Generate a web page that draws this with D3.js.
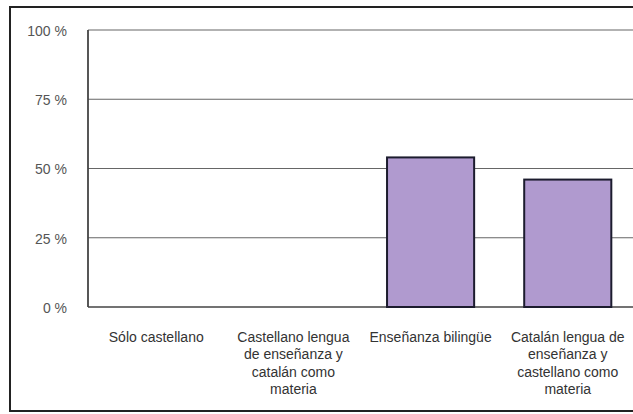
<!DOCTYPE html>
<html><head><meta charset="utf-8">
<script src="https://cdn.jsdelivr.net/npm/d3@7"></script>
<style>body{margin:0;background:#fff;}svg{display:block;}</style>
</head><body>
<script>
const categories = [
  ["Sólo castellano"],
  ["Castellano lengua", "de enseñanza y", "catalán como", "materia"],
  ["Enseñanza bilingüe"],
  ["Catalán lengua de", "enseñanza y", "castellano como", "materia"]
];
const values = [0, 0, 54, 46];
const tickValues = [0, 25, 50, 75, 100];
const tickLabels = ["0 %", "25 %", "50 %", "75 %", "100 %"];

(function () {
const W = 633, H = 414;
const svg = d3.select("body").append("svg").attr("width", W).attr("height", H);

// outer frame
svg.append("rect").attr("x", 10).attr("y", 7).attr("width", 640).attr("height", 404)
  .attr("fill", "none").attr("stroke", "#222").attr("stroke-width", 2);

const pLeft = 88, pTop = 30, pBottom = 307, pRight = 636;
const x = d3.scaleBand().domain(d3.range(categories.length)).range([pLeft, pRight]).paddingInner(0.365).paddingOuter(0.18);
const y = d3.scaleLinear().domain([0, 100]).range([pBottom, pTop]);

// gridlines
svg.append("g").selectAll("line").data(tickValues).join("line")
  .attr("x1", pLeft).attr("x2", W + 5)
  .attr("y1", d => y(d)).attr("y2", d => y(d))
  .attr("stroke", d => d === 0 ? "#444" : "#666")
  .attr("stroke-width", d => d === 0 ? 1.5 : 1.2);

// left axis line
svg.append("line").attr("x1", pLeft).attr("x2", pLeft).attr("y1", pTop).attr("y2", pBottom)
  .attr("stroke", "#444").attr("stroke-width", 1.8);

// y tick labels
svg.append("g").selectAll("text").data(tickValues).join("text")
  .attr("x", 67).attr("y", d => y(d) + 1).attr("dy", "0.35em")
  .attr("text-anchor", "end")
  .attr("font-family", "Liberation Sans, Arial, sans-serif").attr("font-size", 14)
  .attr("fill", "#555")
  .text((d, i) => tickLabels[i]);

// bars
svg.append("g").selectAll("rect").data(values.map((v, i) => ({v, i})).filter(d => d.v > 0)).join("rect")
  .attr("x", d => x(d.i)).attr("width", x.bandwidth())
  .attr("y", d => y(d.v)).attr("height", d => pBottom - y(d.v))
  .attr("fill", "#b09acf").attr("stroke", "#1c1c2e").attr("stroke-width", 2);

// category labels
const lab = svg.append("g");
categories.forEach((lines, i) => {
  const cx = x(i) + x.bandwidth() / 2;
  const t = lab.append("text").attr("text-anchor", "middle")
    .attr("font-family", "Liberation Sans, Arial, sans-serif").attr("font-size", 14)
    .attr("fill", "#333");
  lines.forEach((s, j) => {
    t.append("tspan").attr("x", cx).attr("y", 342 + j * 17.3).text(s);
  });
});
})();
</script>
</body></html>
